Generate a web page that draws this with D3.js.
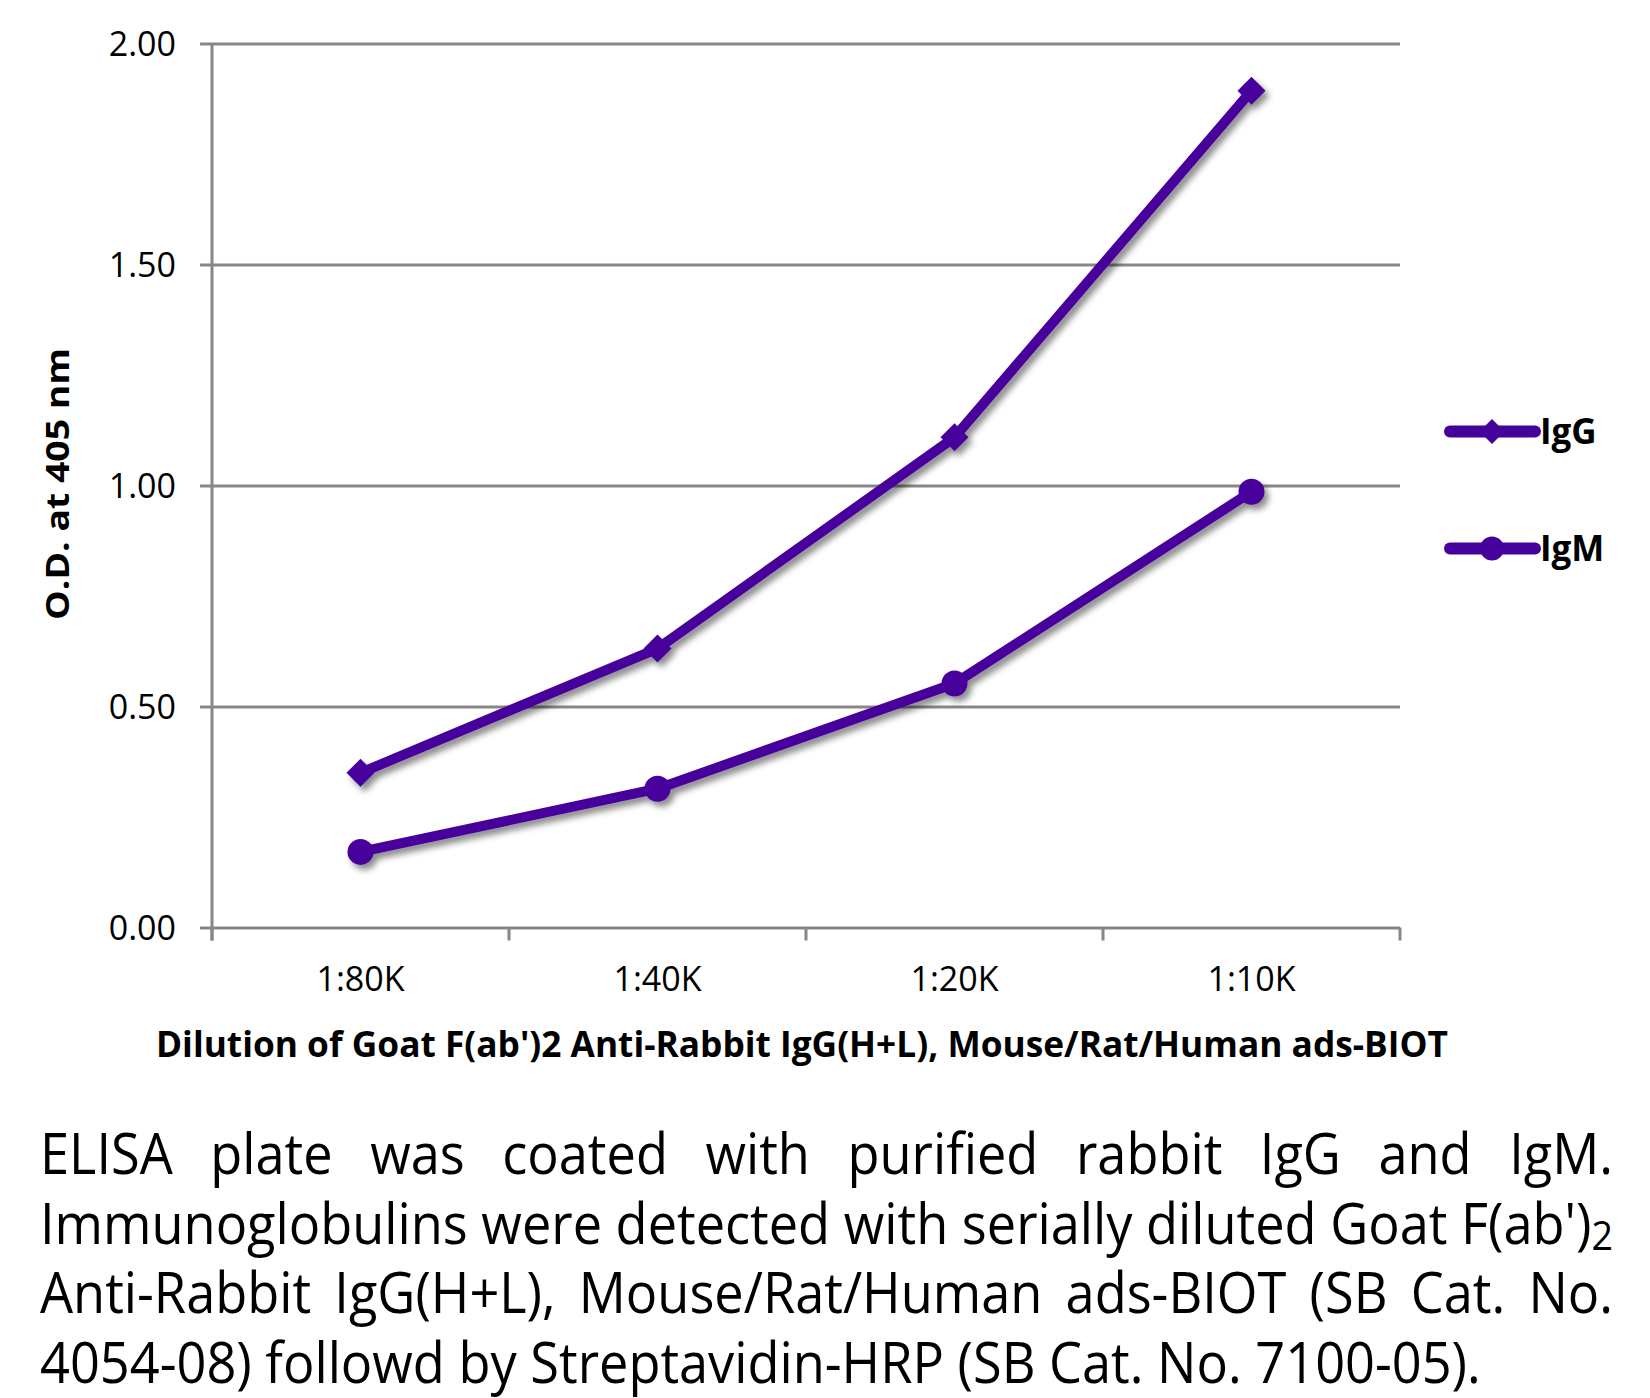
<!DOCTYPE html>
<html>
<head>
<meta charset="utf-8">
<script src="https://cdn.jsdelivr.net/npm/d3@7"></script>
<style>
  html, body { margin: 0; padding: 0; background: #ffffff; }
  svg { display: block; }
  text { font-family: "Open Sans", "Noto Sans", sans-serif; fill: #000; }
</style>
</head>
<body>
<svg id="chart" width="1650" height="1398"></svg>
<script>
// ---- data ----
const categories = ["1:80K", "1:40K", "1:20K", "1:10K"];
const igG = [0.350, 0.631, 1.109, 1.893];
const igM = [0.171, 0.314, 0.552, 0.986];
const seriesNames = ["IgG", "IgM"];
const yTicks = [0, 0.5, 1.0, 1.5, 2.0];
const yTitle = "O.D. at 405 nm";
const xTitle = "Dilution of Goat F(ab')2 Anti-Rabbit IgG(H+L), Mouse/Rat/Human ads-BIOT";
const captionLines = [
  "ELISA plate was coated with purified rabbit IgG and IgM.",
  "Immunoglobulins were detected with serially diluted Goat F(ab')_2",
  "Anti-Rabbit IgG(H+L), Mouse/Rat/Human ads-BIOT (SB Cat. No.",
  "4054-08) followd by Streptavidin-HRP (SB Cat. No. 7100-05)."
];
const captionJustify = [true, true, true, false];

// ---- layout ----
const W = 1650, H = 1398;
const plot = { left: 212, right: 1400, top: 43.5, bottom: 927.5 };
const color = "#46009b";
const grid = "#878787";

const svg = d3.select("#chart");

const defs = svg.append("defs");
const f = defs.append("filter").attr("id", "shadow")
  .attr("x", "-20%").attr("y", "-20%").attr("width", "140%").attr("height", "140%");
f.append("feDropShadow").attr("dx", 4).attr("dy", 5).attr("stdDeviation", 3)
  .attr("flood-color", "#000").attr("flood-opacity", 0.45);

const x = d3.scaleBand().domain(categories).range([plot.left, plot.right]).padding(0);
const y = d3.scaleLinear().domain([0, 2]).range([plot.bottom, plot.top]);

// gridlines + left tick marks (y axis)
const yAxis = d3.axisLeft(y).tickValues(yTicks)
  .tickSize(-(plot.right - 200)).tickSizeOuter(0).tickPadding(24)
  .tickFormat(d3.format(".2f"));
const gy = svg.append("g").attr("transform", `translate(200,0)`).call(yAxis);
gy.select(".domain").remove();
gy.selectAll(".tick line").attr("stroke", grid).attr("stroke-width", 3);
gy.selectAll(".tick text").attr("font-size", 34).attr("fill", "#000")
  .attr("dy", "0.36em");

// vertical axis line
svg.append("line").attr("x1", plot.left).attr("x2", plot.left)
  .attr("y1", plot.top).attr("y2", plot.bottom + 13)
  .attr("stroke", grid).attr("stroke-width", 3);

// x axis tick marks at band edges
const edges = categories.map(c => x(c)).concat([x(categories[categories.length - 1]) + x.bandwidth()]);
svg.append("g").selectAll("line").data(edges).join("line")
  .attr("x1", d => d).attr("x2", d => d)
  .attr("y1", plot.bottom).attr("y2", plot.bottom + 13)
  .attr("stroke", grid).attr("stroke-width", 3);

// x axis labels
const xAxis = d3.axisBottom(x).tickSize(0).tickPadding(0);
const gx = svg.append("g").attr("transform", `translate(0,${plot.bottom})`).call(xAxis);
gx.select(".domain").remove();
gx.selectAll(".tick text").attr("font-size", 34).attr("fill", "#000")
  .attr("dy", null).attr("y", 63);

// series
const lineGen = d3.line().x((d, i) => x(categories[i]) + x.bandwidth() / 2).y(d => y(d));
const series = [
  { name: seriesNames[0], values: igG, marker: "diamond" },
  { name: seriesNames[1], values: igM, marker: "circle" }
];
const diamondPath = (cx, cy, r) => `M${cx},${cy - r}L${cx + r},${cy}L${cx},${cy + r}L${cx - r},${cy}Z`;

series.forEach(s => {
  const g = svg.append("g").attr("filter", "url(#shadow)");
  g.append("path").attr("d", lineGen(s.values)).attr("fill", "none")
    .attr("stroke", color).attr("stroke-width", 10).attr("stroke-linejoin", "round");
  s.values.forEach((v, i) => {
    const cx = x(categories[i]) + x.bandwidth() / 2, cy = y(v);
    if (s.marker === "diamond") {
      g.append("path").attr("d", diamondPath(cx, cy, 14)).attr("fill", color);
    } else {
      g.append("circle").attr("cx", cx).attr("cy", cy).attr("r", 13).attr("fill", color);
    }
  });
});

// legend
const legendY = [431.5, 548.5];
series.forEach((s, i) => {
  const ly = legendY[i];
  svg.append("line").attr("x1", 1450).attr("x2", 1535).attr("y1", ly).attr("y2", ly)
    .attr("stroke", color).attr("stroke-width", 12).attr("stroke-linecap", "round");
  if (s.marker === "diamond") {
    svg.append("path").attr("d", diamondPath(1492, ly, 12.5)).attr("fill", color);
  } else {
    svg.append("circle").attr("cx", 1492).attr("cy", ly).attr("r", 12).attr("fill", color);
  }
  svg.append("text").attr("x", 1540).attr("y", ly + 12)
    .attr("font-size", 35).attr("font-weight", 700).text(s.name);
});

// axis titles
svg.append("text").attr("transform", "translate(69,484) rotate(-90)")
  .attr("text-anchor", "middle").attr("font-size", 33).attr("font-weight", 700)
  .attr("textLength", 272).attr("lengthAdjust", "spacingAndGlyphs").text(yTitle);

svg.append("text").attr("x", 156).attr("y", 1057)
  .attr("font-size", 35).attr("font-weight", 700)
  .attr("textLength", 1292).attr("lengthAdjust", "spacingAndGlyphs").text(xTitle);

// caption (justified)
const capLeft = 40, capWidth = 1573, capFont = 56;
const baselines = [1174, 1243.5, 1313, 1382.5];
const meas = svg.append("g").attr("visibility", "hidden");
function addWord(sel, w) {
  const t = sel.append("text").attr("font-size", capFont);
  const parts = w.split("_");
  t.append("tspan").text(parts[0]);
  if (parts.length > 1) t.append("tspan").attr("font-size", capFont * 0.72).attr("dy", 6).text(parts[1]);
  return t;
}
// width of a space
const tA = meas.append("text").attr("font-size", capFont).text("a a");
const tB = meas.append("text").attr("font-size", capFont).text("aa");
tA.attr("xml:space", "preserve");
const spaceW = tA.node().getComputedTextLength() - tB.node().getComputedTextLength();

function lineInfo(line) {
  const words = line.split(" ");
  const widths = words.map(w => {
    const t = addWord(meas, w);
    const wd = t.node().getComputedTextLength();
    t.remove();
    return wd;
  });
  return { words, widths, sum: d3.sum(widths) };
}
const infos = captionLines.map(lineInfo);
const nat2 = infos[1].sum + spaceW * (infos[1].words.length - 1);
const sx = Math.min(1, capWidth / nat2);
meas.remove();

const cap = svg.append("g");
infos.forEach((inf, li) => {
  const g = cap.append("g").attr("transform", `translate(${capLeft},${baselines[li]}) scale(${sx},1)`);
  const target = capWidth / sx;
  const gap = captionJustify[li] ? (target - inf.sum) / (inf.words.length - 1) : spaceW;
  let cx = 0;
  inf.words.forEach((w, wi) => {
    addWord(g, w).attr("x", cx);
    cx += inf.widths[wi] + gap;
  });
});
</script>
</body>
</html>
